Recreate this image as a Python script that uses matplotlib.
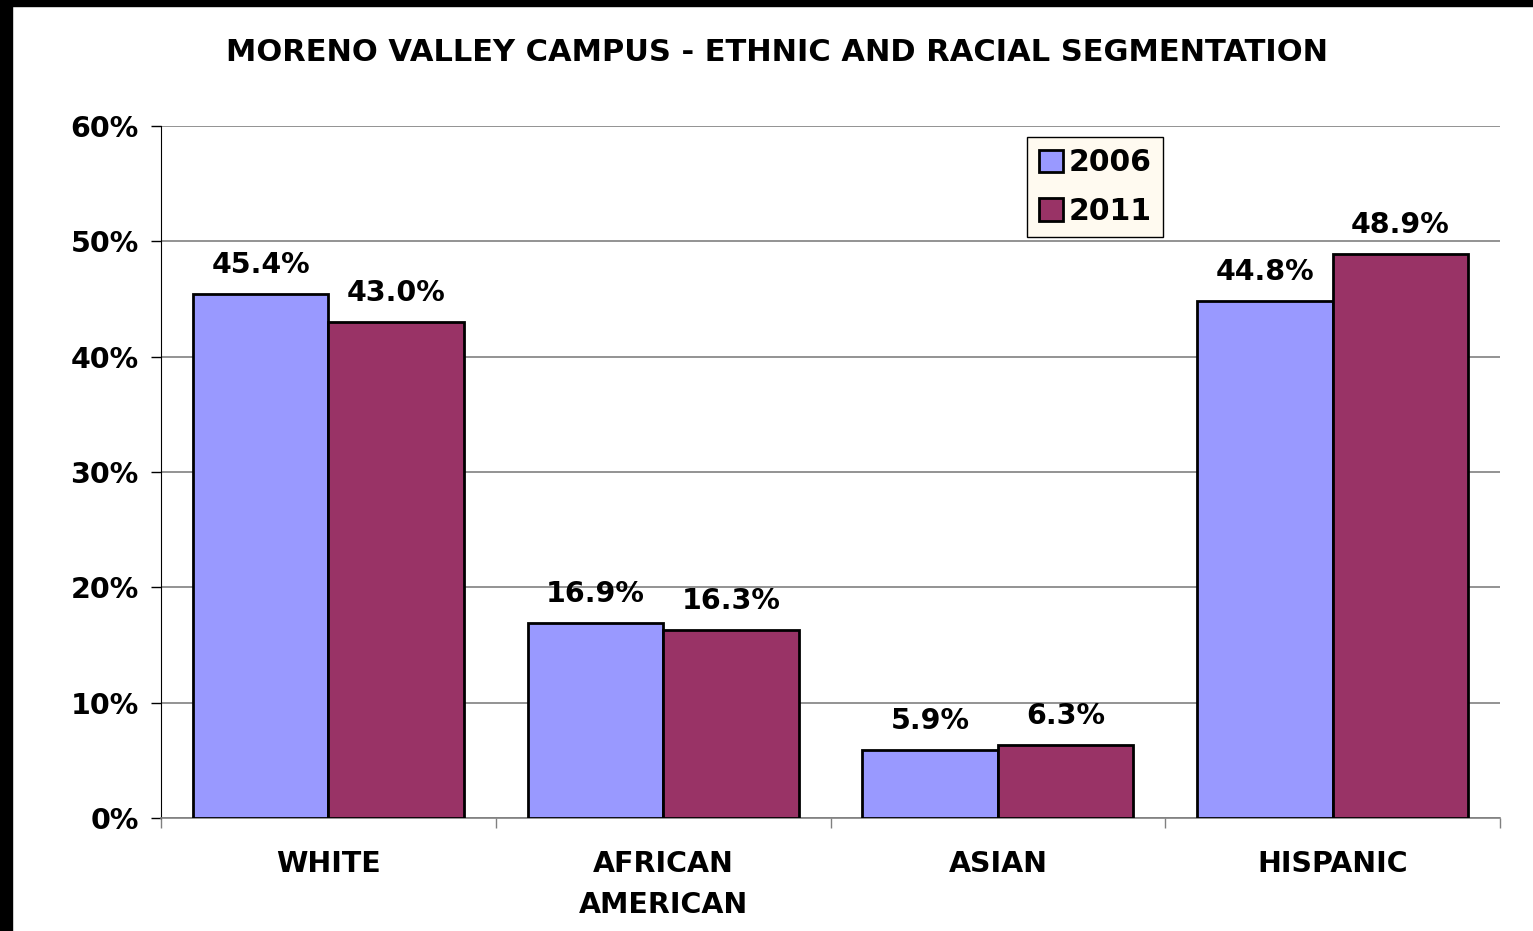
import matplotlib.pyplot as plt
import matplotlib.patches as mpatches
import numpy as np

categories = ["WHITE", "AFRICAN\nAMERICAN", "ASIAN", "HISPANIC"]
years = ["2006", "2011"]
pct_2006 = [45.4, 16.9, 5.9, 44.8]
pct_2011 = [43.0, 16.3, 6.3, 48.9]
y_ticks = [0, 10, 20, 30, 40, 50, 60]

plt.rcParams["font.family"] = ["DejaVu Sans"]
plt.rcParams["font.weight"] = "bold"

fig = plt.figure(figsize=(15.33, 9.31), dpi=100)
# black frame on the top and left edge
fig.patches.append(mpatches.Rectangle((0, 1 - 6 / 931), 1, 6 / 931, transform=fig.transFigure,
                                      color="black", zorder=10))
fig.patches.append(mpatches.Rectangle((0, 0), 12 / 1533, 1, transform=fig.transFigure,
                                      color="black", zorder=10))

ax = fig.add_axes([0.105, 0.1214, 0.8735, 0.7433])

x = np.arange(len(categories))
w = 0.405
b1 = ax.bar(x - w / 2, pct_2006, w, color="#9999FF", edgecolor="black", linewidth=2,
            label=years[0], zorder=3)
b2 = ax.bar(x + w / 2, pct_2011, w, color="#993366", edgecolor="black", linewidth=2,
            label=years[1], zorder=3)

for bars, vals in ((b1, pct_2006), (b2, pct_2011)):
    for rect, v in zip(bars, vals):
        ax.annotate(f"{v:.1f}%", (rect.get_x() + rect.get_width() / 2, v),
                    xytext=(0, 11), textcoords="offset points", ha="center", va="bottom",
                    fontsize=20.5, fontweight="bold")

ax.set_xlim(-0.5, len(categories) - 0.5)
ax.set_ylim(0, 60)
ax.set_yticks(y_ticks)
ax.set_yticklabels([f"{t}%" for t in y_ticks], fontsize=20.5, fontweight="bold")
ax.tick_params(axis="y", length=7, width=1, pad=9, color="black")
ax.yaxis.grid(True, color="#808080", linewidth=1.2, zorder=0)

ax.set_xticks(np.arange(len(categories) + 1) - 0.5)
ax.set_xticklabels([])
ax.tick_params(axis="x", which="major", length=7, width=1, color="#808080")
ax.set_xticks(x, minor=True)
ax.set_xticklabels(categories, minor=True, fontsize=20.5, fontweight="bold", linespacing=1.6)
ax.tick_params(axis="x", which="minor", length=0, pad=23)

for s in ("top", "right"):
    ax.spines[s].set_visible(False)
ax.spines["left"].set_color("black")
ax.spines["bottom"].set_color("#808080")
ax.spines["bottom"].set_linewidth(1.2)

fig.text(0.507, 0.944, "MORENO VALLEY CAMPUS - ETHNIC AND RACIAL SEGMENTATION",
         ha="center", va="center", fontsize=22, fontweight="bold")

leg = ax.legend(loc="upper left", bbox_to_anchor=(0.647, 0.984), fontsize=21.5,
                fancybox=False, frameon=True, handlelength=0.8, handleheight=0.8,
                handletextpad=0.2, borderpad=0.38, labelspacing=0.65, borderaxespad=0)
leg.get_frame().set_facecolor("#FFFAF0")
leg.get_frame().set_edgecolor("black")
leg.get_frame().set_linewidth(1)
leg.get_frame().set_alpha(1)
for t in leg.get_texts():
    t.set_fontweight("bold")

fig.savefig("out.png", dpi=100)
